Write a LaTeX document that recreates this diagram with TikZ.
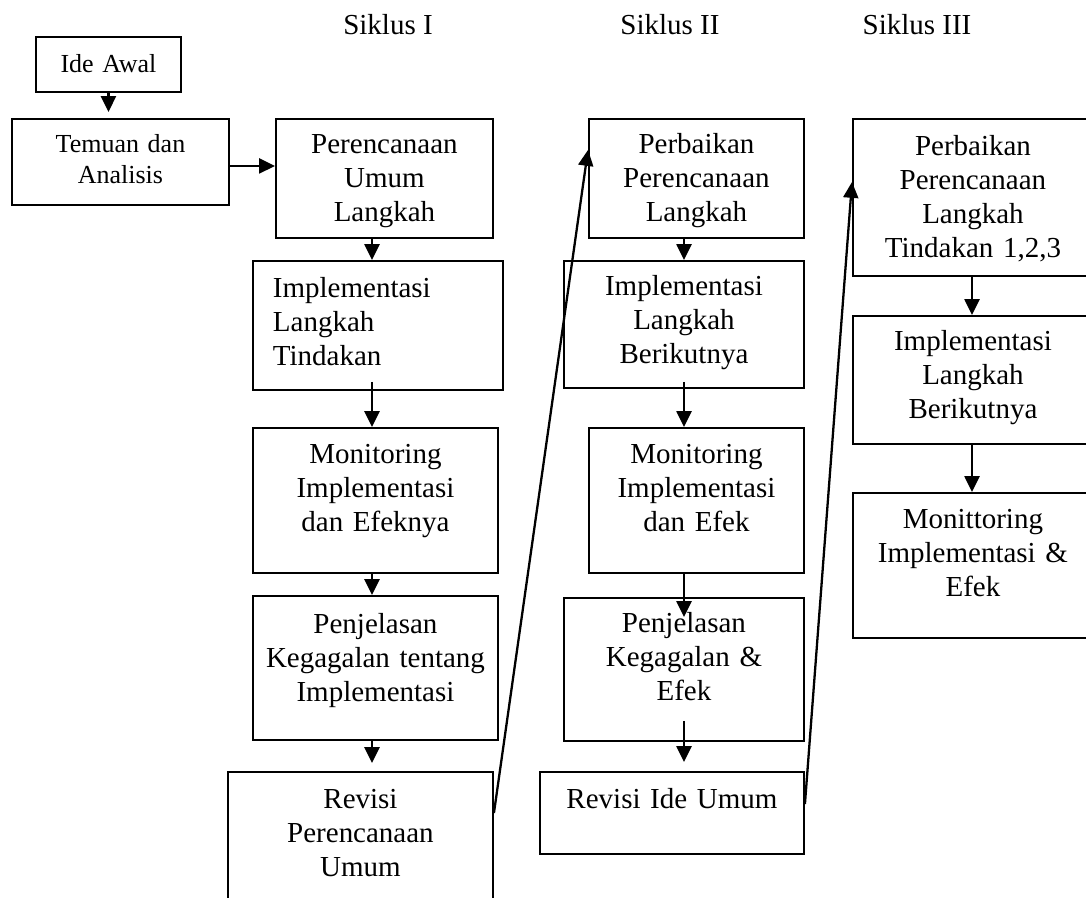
\documentclass[tikz,border=0pt]{standalone}
\usepackage{fontspec}
\setmainfont{Liberation Serif}
\usetikzlibrary{arrows.meta,positioning,calc}
\newlength\px
\setlength\px{0.02cm}

\tikzset{
  kotak/.style={draw, line width=1.1pt, inner xsep=4\px, inner ysep=0pt, align=center,
    anchor=north west, font=\fontsize{16.5}{19.3}\selectfont},
  kecil/.style={font=\fontsize{14.8}{17.6}\selectfont},
  ukuran/.style n args={3}{text width=#1\px, text height=#2\px, text depth=#3\px},
  panah/.style={line width=1.3pt, -{Triangle[length=9pt,width=8.5pt]}},
  judul/.style={anchor=base, font=\fontsize{16.5}{19.3}\selectfont},
}

\begin{document}
\begin{tikzpicture}[x=\px, y=-\px]
    \useasboundingbox (0,0) rectangle (1086,898);
    \clip (0,0) rectangle (1086,898);

    % judul siklus
    \node [judul] (s1) at (388,35) {Siklus I};
    \node [judul] (s2) at (670,35) {Siklus II};
    \node [judul] (s3) at (917,35) {Siklus III};

    % awal
    \node [kotak, kecil, ukuran={137}{36}{19}] (ide) at (35,36) {Ide Awal};
    \node [kotak, kecil, ukuran={209}{34}{52}] (temuan) at (11,118) {Temuan dan\\Analisis};

    % siklus I
    \node [kotak, ukuran={209}{35}{84}] (p1) at (275,118) {Perencanaan\\Umum\\Langkah};
    \node [kotak, ukuran={210}{37}{92}, align=left, inner xsep=20\px] (i1) at (252,260) {Implementasi\\Langkah\\Tindakan};
    \node [kotak, ukuran={237}{36}{109}] (m1) at (252,427) {Monitoring\\Implementasi\\dan Efeknya};
    \node [kotak, ukuran={237}{38}{106}] (pj1) at (252,595) {Penjelasan\\Kegagalan tentang\\Implementasi};
    \node [kotak, ukuran={257}{37}{122}] (r1) at (227,771) {Revisi\\Perencanaan\\Umum};

    % siklus II
    \node [kotak, ukuran={207}{35}{84}] (p2) at (588,118) {Perbaikan\\Perencanaan\\Langkah};
    \node [kotak, ukuran={232}{35}{92}] (i2) at (563,260) {Implementasi\\Langkah\\Berikutnya};
    \node [kotak, ukuran={207}{36}{109}] (m2) at (588,427) {Monitoring\\Implementasi\\dan Efek};
    \node [kotak, ukuran={232}{35}{108}] (pj2) at (563,597) {Penjelasan\\Kegagalan \&\\Efek};
    \node [kotak, ukuran={256}{37}{45}] (r2) at (539,771) {Revisi Ide Umum};

    % siklus III
    \node [kotak, ukuran={232}{37}{120}] (p3) at (852,118) {Perbaikan\\Perencanaan\\Langkah\\Tindakan 1,2,3};
    \node [kotak, ukuran={232}{35}{93}] (i3) at (852,315) {Implementasi\\Langkah\\Berikutnya};
    \node [kotak, ukuran={232}{36}{109}] (m3) at (852,492) {Monittoring\\Implementasi \&\\Efek};

    % garis kolom
    \coordinate (k1) at (372,0);
    \coordinate (k2) at (684,0);
    \coordinate (k3) at (972,0);

    \draw [panah, shorten >=6\px] (ide.south) -- (ide.south |- temuan.north);
    \draw [panah] ([yshift=-4\px]temuan.east) -- ([yshift=-4\px]temuan.east -| p1.west);

    \draw [panah] (k1 |- p1.south) -- (k1 |- i1.north);
    \draw [panah, shorten <=-9\px] (k1 |- i1.south) -- (k1 |- m1.north);
    \draw [panah] (k1 |- m1.south) -- (k1 |- pj1.north);
    \draw [panah, shorten >=8\px] (k1 |- pj1.south) -- (k1 |- r1.north);

    \draw [panah] (k2 |- p2.south) -- (k2 |- i2.north);
    \draw [panah, shorten <=-7\px] (k2 |- i2.south) -- (k2 |- m2.north);
    \draw [panah, shorten >=-20\px] (k2 |- m2.south) -- (k2 |- pj2.north);
    \draw [panah, shorten <=-21\px, shorten >=9\px] (k2 |- pj2.south) -- (k2 |- r2.north);

    \draw [panah] (k3 |- p3.south) -- (k3 |- i3.north);
    \draw [panah] (k3 |- i3.south) -- (k3 |- m3.north);

    % ke siklus berikutnya
    \draw [panah] ([yshift=-42\px]r1.north east) -- ([yshift=-32\px]p2.north west);
    \draw [panah] ([yshift=-33\px]r2.north east) -- ([yshift=-64\px]p3.north west);
\end{tikzpicture}
\end{document}
